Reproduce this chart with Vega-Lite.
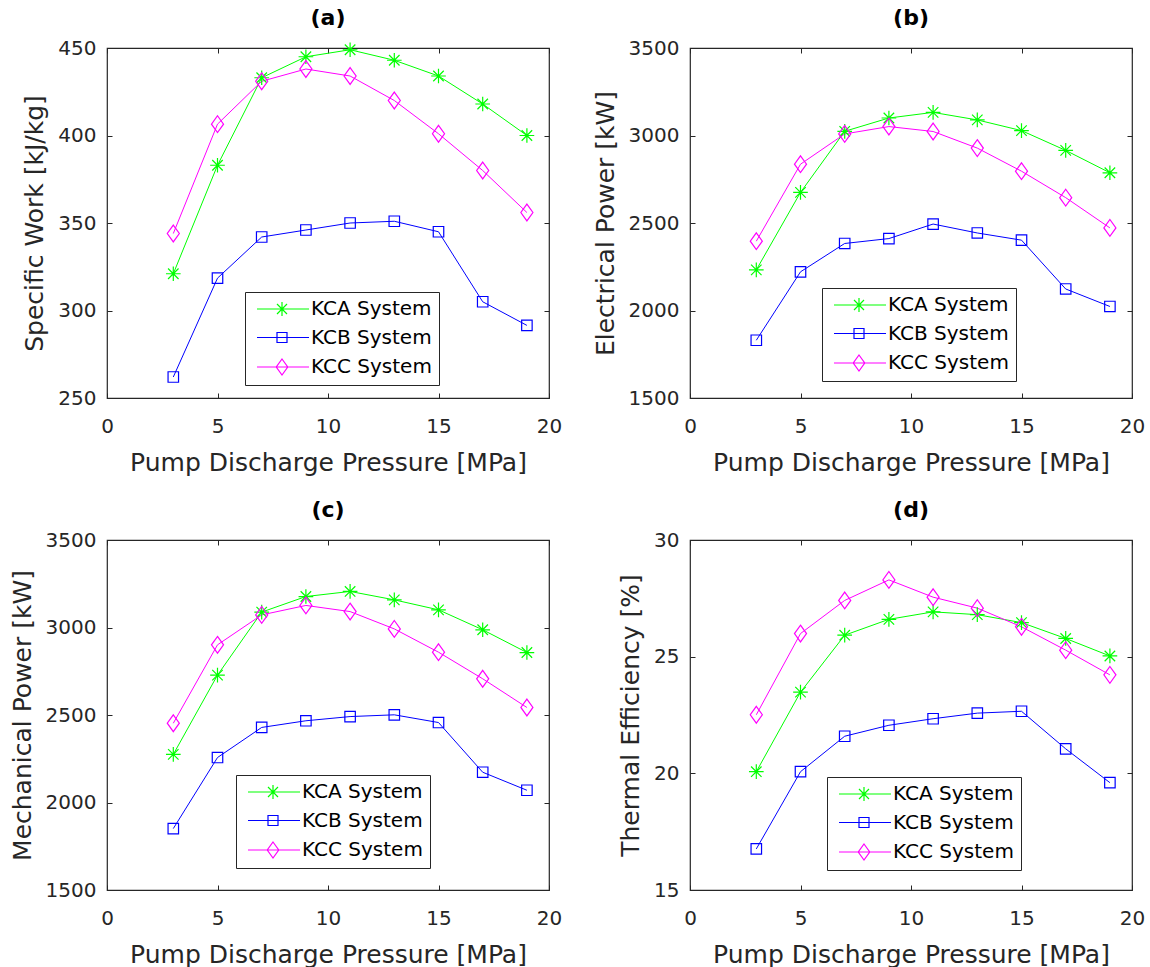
{
  "$schema": "https://vega.github.io/schema/vega-lite/v6.json",
  "background": "white",
  "padding": {"left": 9, "top": 6, "right": 0, "bottom": 0},
  "config": {
    "font": "DejaVu Sans",
    "view": {"stroke": "#262626", "strokeWidth": 1.2},
    "axis": {"grid": false, "domain": false, "tickColor": "#262626", "tickSize": -5, "tickWidth": 1, "labelFont": "DejaVu Sans", "labelFontSize": 20, "labelColor": "#262626", "labelFlush": false, "format": "d", "titleFont": "DejaVu Sans", "titleFontSize": 25, "titleFontWeight": "normal", "titleColor": "#262626"},
    "axisX": {"labelPadding": 23, "titlePadding": 14},
    "axisY": {"labelPadding": 16, "titlePadding": 10},
    "legend": {"title": null, "padding": 7, "labelFont": "DejaVu Sans", "labelFontSize": 20, "labelColor": "#000000", "symbolSize": 100, "labelOffset": 39, "rowPadding": 8.5, "symbolStrokeWidth": 1.2, "strokeColor": "#262626", "fillColor": "#ffffff"},
    "title": {"font": "DejaVu Sans", "fontSize": 22, "fontWeight": "bold", "color": "#000000", "offset": 8, "frame": "group", "anchor": "middle"}
  },
  "data": {"values": [
    {"panel":"a","P":3,"system":"KCA System","v":321},{"panel":"a","P":5,"system":"KCA System","v":383},{"panel":"a","P":7,"system":"KCA System","v":433},{"panel":"a","P":9,"system":"KCA System","v":445},{"panel":"a","P":11,"system":"KCA System","v":449},{"panel":"a","P":13,"system":"KCA System","v":443},{"panel":"a","P":15,"system":"KCA System","v":434},{"panel":"a","P":17,"system":"KCA System","v":418},{"panel":"a","P":19,"system":"KCA System","v":400},
    {"panel":"a","P":3,"system":"KCB System","v":262},{"panel":"a","P":5,"system":"KCB System","v":318.5},{"panel":"a","P":7,"system":"KCB System","v":342},{"panel":"a","P":9,"system":"KCB System","v":346},{"panel":"a","P":11,"system":"KCB System","v":350},{"panel":"a","P":13,"system":"KCB System","v":351},{"panel":"a","P":15,"system":"KCB System","v":345},{"panel":"a","P":17,"system":"KCB System","v":305},{"panel":"a","P":19,"system":"KCB System","v":291.5},
    {"panel":"a","P":3,"system":"KCC System","v":344},{"panel":"a","P":5,"system":"KCC System","v":406.5},{"panel":"a","P":7,"system":"KCC System","v":431},{"panel":"a","P":9,"system":"KCC System","v":438},{"panel":"a","P":11,"system":"KCC System","v":434},{"panel":"a","P":13,"system":"KCC System","v":420},{"panel":"a","P":15,"system":"KCC System","v":401},{"panel":"a","P":17,"system":"KCC System","v":380},{"panel":"a","P":19,"system":"KCC System","v":356},
    {"panel":"b","P":3,"system":"KCA System","v":2232},{"panel":"b","P":5,"system":"KCA System","v":2675},{"panel":"b","P":7,"system":"KCA System","v":3024},{"panel":"b","P":9,"system":"KCA System","v":3100},{"panel":"b","P":11,"system":"KCA System","v":3132},{"panel":"b","P":13,"system":"KCA System","v":3089},{"panel":"b","P":15,"system":"KCA System","v":3028},{"panel":"b","P":17,"system":"KCA System","v":2915},{"panel":"b","P":19,"system":"KCA System","v":2787},
    {"panel":"b","P":3,"system":"KCB System","v":1830},{"panel":"b","P":5,"system":"KCB System","v":2221},{"panel":"b","P":7,"system":"KCB System","v":2383},{"panel":"b","P":9,"system":"KCB System","v":2411},{"panel":"b","P":11,"system":"KCB System","v":2494},{"panel":"b","P":13,"system":"KCB System","v":2443},{"panel":"b","P":15,"system":"KCB System","v":2402},{"panel":"b","P":17,"system":"KCB System","v":2123},{"panel":"b","P":19,"system":"KCB System","v":2023},
    {"panel":"b","P":3,"system":"KCC System","v":2396},{"panel":"b","P":5,"system":"KCC System","v":2836},{"panel":"b","P":7,"system":"KCC System","v":3009},{"panel":"b","P":9,"system":"KCC System","v":3051},{"panel":"b","P":11,"system":"KCC System","v":3023},{"panel":"b","P":13,"system":"KCC System","v":2928},{"panel":"b","P":15,"system":"KCC System","v":2796},{"panel":"b","P":17,"system":"KCC System","v":2645},{"panel":"b","P":19,"system":"KCC System","v":2472},
    {"panel":"c","P":3,"system":"KCA System","v":2275},{"panel":"c","P":5,"system":"KCA System","v":2728},{"panel":"c","P":7,"system":"KCA System","v":3088},{"panel":"c","P":9,"system":"KCA System","v":3177},{"panel":"c","P":11,"system":"KCA System","v":3206},{"panel":"c","P":13,"system":"KCA System","v":3158},{"panel":"c","P":15,"system":"KCA System","v":3101},{"panel":"c","P":17,"system":"KCA System","v":2987},{"panel":"c","P":19,"system":"KCA System","v":2857},
    {"panel":"c","P":3,"system":"KCB System","v":1851},{"panel":"c","P":5,"system":"KCB System","v":2257},{"panel":"c","P":7,"system":"KCB System","v":2429},{"panel":"c","P":9,"system":"KCB System","v":2467},{"panel":"c","P":11,"system":"KCB System","v":2491},{"panel":"c","P":13,"system":"KCB System","v":2501},{"panel":"c","P":15,"system":"KCB System","v":2457},{"panel":"c","P":17,"system":"KCB System","v":2173},{"panel":"c","P":19,"system":"KCB System","v":2070},
    {"panel":"c","P":3,"system":"KCC System","v":2453},{"panel":"c","P":5,"system":"KCC System","v":2901},{"panel":"c","P":7,"system":"KCC System","v":3072},{"panel":"c","P":9,"system":"KCC System","v":3126},{"panel":"c","P":11,"system":"KCC System","v":3091},{"panel":"c","P":13,"system":"KCC System","v":2992},{"panel":"c","P":15,"system":"KCC System","v":2859},{"panel":"c","P":17,"system":"KCC System","v":2707},{"panel":"c","P":19,"system":"KCC System","v":2543},
    {"panel":"d","P":3,"system":"KCA System","v":20.07},{"panel":"d","P":5,"system":"KCA System","v":23.48},{"panel":"d","P":7,"system":"KCA System","v":25.92},{"panel":"d","P":9,"system":"KCA System","v":26.6},{"panel":"d","P":11,"system":"KCA System","v":26.92},{"panel":"d","P":13,"system":"KCA System","v":26.8},{"panel":"d","P":15,"system":"KCA System","v":26.46},{"panel":"d","P":17,"system":"KCA System","v":25.78},{"panel":"d","P":19,"system":"KCA System","v":25.03},
    {"panel":"d","P":3,"system":"KCB System","v":16.76},{"panel":"d","P":5,"system":"KCB System","v":20.07},{"panel":"d","P":7,"system":"KCB System","v":21.59},{"panel":"d","P":9,"system":"KCB System","v":22.06},{"panel":"d","P":11,"system":"KCB System","v":22.34},{"panel":"d","P":13,"system":"KCB System","v":22.58},{"panel":"d","P":15,"system":"KCB System","v":22.66},{"panel":"d","P":17,"system":"KCB System","v":21.05},{"panel":"d","P":19,"system":"KCB System","v":19.6},
    {"panel":"d","P":3,"system":"KCC System","v":22.51},{"panel":"d","P":5,"system":"KCC System","v":25.99},{"panel":"d","P":7,"system":"KCC System","v":27.41},{"panel":"d","P":9,"system":"KCC System","v":28.29},{"panel":"d","P":11,"system":"KCC System","v":27.55},{"panel":"d","P":13,"system":"KCC System","v":27.08},{"panel":"d","P":15,"system":"KCC System","v":26.28},{"panel":"d","P":17,"system":"KCC System","v":25.28},{"panel":"d","P":19,"system":"KCC System","v":24.22}
  ]},
  "columns": 2,
  "bounds": "flush",
  "spacing": {"row": 142, "column": 141},
  "resolve": {"scale": {"color": "independent", "shape": "independent"}},
  "concat": [
    {
      "title": {"text": "(a)"},
      "width": 442, "height": 350,
      "transform": [{"filter": "datum.panel === 'a'"}],
      "layer": [
        {"mark": {"type": "line", "strokeWidth": 1},
         "encoding": {
           "x": {"field": "P", "type": "quantitative", "scale": {"domain": [0, 20], "nice": false}, "axis": {"orient": "bottom", "values": [0, 5, 10, 15, 20], "title": "Pump Discharge Pressure [MPa]"}},
           "y": {"field": "v", "type": "quantitative", "scale": {"domain": [250, 450], "nice": false, "zero": false}, "axis": {"orient": "left", "values": [250, 300, 350, 400, 450], "title": "Specific Work [kJ/kg]"}},
           "color": {"field": "system", "type": "nominal", "scale": {"domain": ["KCA System", "KCB System", "KCC System"], "range": ["#00ff00", "#0000ff", "#ff00ff"]}, "legend": null}
         }},
        {"mark": {"type": "point", "filled": false, "strokeWidth": 1.2, "size": 110, "opacity": 1},
         "encoding": {
           "x": {"field": "P", "type": "quantitative", "axis": {"orient": "top", "values": [0, 5, 10, 15, 20], "labels": false, "title": null}},
           "y": {"field": "v", "type": "quantitative", "axis": {"orient": "right", "values": [250, 300, 350, 400, 450], "labels": false, "title": null}},
           "color": {"field": "system", "type": "nominal", "scale": {"domain": ["KCA System", "KCB System", "KCC System"], "range": ["#00ff00", "#0000ff", "#ff00ff"]}, "legend": null},
           "shape": {"field": "system", "type": "nominal", "scale": {"domain": ["KCA System", "KCB System", "KCC System"], "range": ["M-1.4,0H1.4M0,-1.4V1.4M-1,-1L1,1M-1,1L1,-1", "square", "M0,-1.6L1.15,0L0,1.6L-1.15,0Z"]}, "legend": null}
         }},
        {"transform": [{"filter": "false"}],
         "mark": {"type": "point", "filled": false, "strokeWidth": 1.2, "size": 100, "opacity": 1},
         "encoding": {
           "x": {"field": "P", "type": "quantitative", "axis": null},
           "y": {"field": "v", "type": "quantitative", "axis": null},
           "color": {"field": "system", "type": "nominal", "scale": {"domain": ["KCA System", "KCB System", "KCC System"], "range": ["#00ff00", "#0000ff", "#ff00ff"]}, "legend": {"orient": "none", "legendX": 138, "legendY": 244, "symbolSize": 100}},
           "shape": {"field": "system", "type": "nominal", "scale": {"domain": ["KCA System", "KCB System", "KCC System"], "range": ["M-1,0H9.4M2.6,0H5.4M4,-1.4V1.4M3,-1L5,1M3,1L5,-1", "M-1,0H9.4M3,-1H5V1H3Z", "M-1,0H9.4M4,-1.6L5.15,0L4,1.6L2.85,0Z"]}, "legend": {"orient": "none", "legendX": 138, "legendY": 244, "symbolSize": 100}}
         }}
      ],
      "resolve": {"axis": {"x": "independent", "y": "independent"}, "scale": {"color": "independent", "shape": "independent"}}
    },
    {
      "title": {"text": "(b)"},
      "width": 442, "height": 350,
      "transform": [{"filter": "datum.panel === 'b'"}],
      "layer": [
        {"mark": {"type": "line", "strokeWidth": 1},
         "encoding": {
           "x": {"field": "P", "type": "quantitative", "scale": {"domain": [0, 20], "nice": false}, "axis": {"orient": "bottom", "values": [0, 5, 10, 15, 20], "title": "Pump Discharge Pressure [MPa]"}},
           "y": {"field": "v", "type": "quantitative", "scale": {"domain": [1500, 3500], "nice": false, "zero": false}, "axis": {"orient": "left", "values": [1500, 2000, 2500, 3000, 3500], "title": "Electrical Power [kW]"}},
           "color": {"field": "system", "type": "nominal", "scale": {"domain": ["KCA System", "KCB System", "KCC System"], "range": ["#00ff00", "#0000ff", "#ff00ff"]}, "legend": null}
         }},
        {"mark": {"type": "point", "filled": false, "strokeWidth": 1.2, "size": 110, "opacity": 1},
         "encoding": {
           "x": {"field": "P", "type": "quantitative", "axis": {"orient": "top", "values": [0, 5, 10, 15, 20], "labels": false, "title": null}},
           "y": {"field": "v", "type": "quantitative", "axis": {"orient": "right", "values": [1500, 2000, 2500, 3000, 3500], "labels": false, "title": null}},
           "color": {"field": "system", "type": "nominal", "scale": {"domain": ["KCA System", "KCB System", "KCC System"], "range": ["#00ff00", "#0000ff", "#ff00ff"]}, "legend": null},
           "shape": {"field": "system", "type": "nominal", "scale": {"domain": ["KCA System", "KCB System", "KCC System"], "range": ["M-1.4,0H1.4M0,-1.4V1.4M-1,-1L1,1M-1,1L1,-1", "square", "M0,-1.6L1.15,0L0,1.6L-1.15,0Z"]}, "legend": null}
         }},
        {"transform": [{"filter": "false"}],
         "mark": {"type": "point", "filled": false, "strokeWidth": 1.2, "size": 100, "opacity": 1},
         "encoding": {
           "x": {"field": "P", "type": "quantitative", "axis": null},
           "y": {"field": "v", "type": "quantitative", "axis": null},
           "color": {"field": "system", "type": "nominal", "scale": {"domain": ["KCA System", "KCB System", "KCC System"], "range": ["#00ff00", "#0000ff", "#ff00ff"]}, "legend": {"orient": "none", "legendX": 132, "legendY": 240, "symbolSize": 100}},
           "shape": {"field": "system", "type": "nominal", "scale": {"domain": ["KCA System", "KCB System", "KCC System"], "range": ["M-1,0H9.4M2.6,0H5.4M4,-1.4V1.4M3,-1L5,1M3,1L5,-1", "M-1,0H9.4M3,-1H5V1H3Z", "M-1,0H9.4M4,-1.6L5.15,0L4,1.6L2.85,0Z"]}, "legend": {"orient": "none", "legendX": 132, "legendY": 240, "symbolSize": 100}}
         }}
      ],
      "resolve": {"axis": {"x": "independent", "y": "independent"}, "scale": {"color": "independent", "shape": "independent"}}
    },
    {
      "title": {"text": "(c)"},
      "width": 442, "height": 350,
      "transform": [{"filter": "datum.panel === 'c'"}],
      "layer": [
        {"mark": {"type": "line", "strokeWidth": 1},
         "encoding": {
           "x": {"field": "P", "type": "quantitative", "scale": {"domain": [0, 20], "nice": false}, "axis": {"orient": "bottom", "values": [0, 5, 10, 15, 20], "title": "Pump Discharge Pressure [MPa]"}},
           "y": {"field": "v", "type": "quantitative", "scale": {"domain": [1500, 3500], "nice": false, "zero": false}, "axis": {"orient": "left", "values": [1500, 2000, 2500, 3000, 3500], "title": "Mechanical Power [kW]"}},
           "color": {"field": "system", "type": "nominal", "scale": {"domain": ["KCA System", "KCB System", "KCC System"], "range": ["#00ff00", "#0000ff", "#ff00ff"]}, "legend": null}
         }},
        {"mark": {"type": "point", "filled": false, "strokeWidth": 1.2, "size": 110, "opacity": 1},
         "encoding": {
           "x": {"field": "P", "type": "quantitative", "axis": {"orient": "top", "values": [0, 5, 10, 15, 20], "labels": false, "title": null}},
           "y": {"field": "v", "type": "quantitative", "axis": {"orient": "right", "values": [1500, 2000, 2500, 3000, 3500], "labels": false, "title": null}},
           "color": {"field": "system", "type": "nominal", "scale": {"domain": ["KCA System", "KCB System", "KCC System"], "range": ["#00ff00", "#0000ff", "#ff00ff"]}, "legend": null},
           "shape": {"field": "system", "type": "nominal", "scale": {"domain": ["KCA System", "KCB System", "KCC System"], "range": ["M-1.4,0H1.4M0,-1.4V1.4M-1,-1L1,1M-1,1L1,-1", "square", "M0,-1.6L1.15,0L0,1.6L-1.15,0Z"]}, "legend": null}
         }},
        {"transform": [{"filter": "false"}],
         "mark": {"type": "point", "filled": false, "strokeWidth": 1.2, "size": 100, "opacity": 1},
         "encoding": {
           "x": {"field": "P", "type": "quantitative", "axis": null},
           "y": {"field": "v", "type": "quantitative", "axis": null},
           "color": {"field": "system", "type": "nominal", "scale": {"domain": ["KCA System", "KCB System", "KCC System"], "range": ["#00ff00", "#0000ff", "#ff00ff"]}, "legend": {"orient": "none", "legendX": 129, "legendY": 235, "symbolSize": 100}},
           "shape": {"field": "system", "type": "nominal", "scale": {"domain": ["KCA System", "KCB System", "KCC System"], "range": ["M-1,0H9.4M2.6,0H5.4M4,-1.4V1.4M3,-1L5,1M3,1L5,-1", "M-1,0H9.4M3,-1H5V1H3Z", "M-1,0H9.4M4,-1.6L5.15,0L4,1.6L2.85,0Z"]}, "legend": {"orient": "none", "legendX": 129, "legendY": 235, "symbolSize": 100}}
         }}
      ],
      "resolve": {"axis": {"x": "independent", "y": "independent"}, "scale": {"color": "independent", "shape": "independent"}}
    },
    {
      "title": {"text": "(d)"},
      "width": 442, "height": 350,
      "transform": [{"filter": "datum.panel === 'd'"}],
      "layer": [
        {"mark": {"type": "line", "strokeWidth": 1},
         "encoding": {
           "x": {"field": "P", "type": "quantitative", "scale": {"domain": [0, 20], "nice": false}, "axis": {"orient": "bottom", "values": [0, 5, 10, 15, 20], "title": "Pump Discharge Pressure [MPa]"}},
           "y": {"field": "v", "type": "quantitative", "scale": {"domain": [15, 30], "nice": false, "zero": false}, "axis": {"orient": "left", "values": [15, 20, 25, 30], "title": "Thermal Efficiency [%]"}},
           "color": {"field": "system", "type": "nominal", "scale": {"domain": ["KCA System", "KCB System", "KCC System"], "range": ["#00ff00", "#0000ff", "#ff00ff"]}, "legend": null}
         }},
        {"mark": {"type": "point", "filled": false, "strokeWidth": 1.2, "size": 110, "opacity": 1},
         "encoding": {
           "x": {"field": "P", "type": "quantitative", "axis": {"orient": "top", "values": [0, 5, 10, 15, 20], "labels": false, "title": null}},
           "y": {"field": "v", "type": "quantitative", "axis": {"orient": "right", "values": [15, 20, 25, 30], "labels": false, "title": null}},
           "color": {"field": "system", "type": "nominal", "scale": {"domain": ["KCA System", "KCB System", "KCC System"], "range": ["#00ff00", "#0000ff", "#ff00ff"]}, "legend": null},
           "shape": {"field": "system", "type": "nominal", "scale": {"domain": ["KCA System", "KCB System", "KCC System"], "range": ["M-1.4,0H1.4M0,-1.4V1.4M-1,-1L1,1M-1,1L1,-1", "square", "M0,-1.6L1.15,0L0,1.6L-1.15,0Z"]}, "legend": null}
         }},
        {"transform": [{"filter": "false"}],
         "mark": {"type": "point", "filled": false, "strokeWidth": 1.2, "size": 100, "opacity": 1},
         "encoding": {
           "x": {"field": "P", "type": "quantitative", "axis": null},
           "y": {"field": "v", "type": "quantitative", "axis": null},
           "color": {"field": "system", "type": "nominal", "scale": {"domain": ["KCA System", "KCB System", "KCC System"], "range": ["#00ff00", "#0000ff", "#ff00ff"]}, "legend": {"orient": "none", "legendX": 137, "legendY": 237, "symbolSize": 100}},
           "shape": {"field": "system", "type": "nominal", "scale": {"domain": ["KCA System", "KCB System", "KCC System"], "range": ["M-1,0H9.4M2.6,0H5.4M4,-1.4V1.4M3,-1L5,1M3,1L5,-1", "M-1,0H9.4M3,-1H5V1H3Z", "M-1,0H9.4M4,-1.6L5.15,0L4,1.6L2.85,0Z"]}, "legend": {"orient": "none", "legendX": 137, "legendY": 237, "symbolSize": 100}}
         }}
      ],
      "resolve": {"axis": {"x": "independent", "y": "independent"}, "scale": {"color": "independent", "shape": "independent"}}
    }
  ]
}
